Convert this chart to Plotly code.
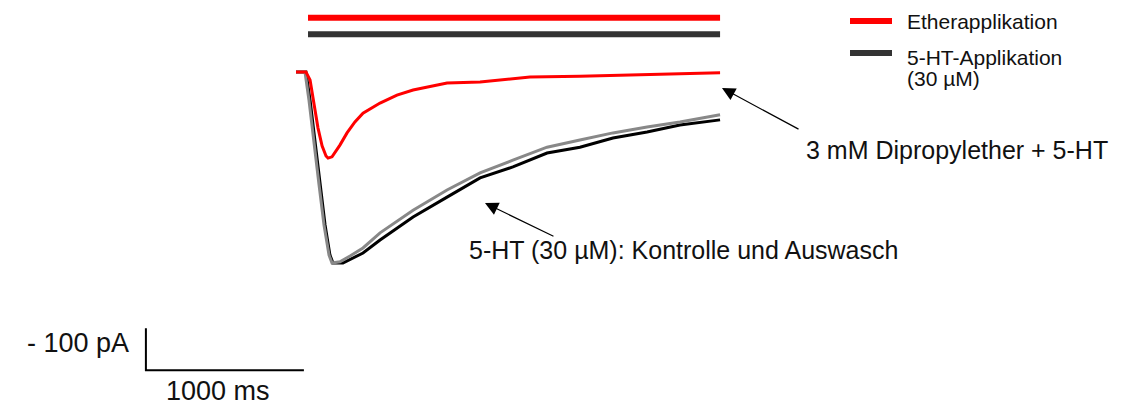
import plotly.graph_objects as go

# ---- data (time in ms, current in pA) ----
red_t = [0, 63, 89, 114, 139, 165, 190, 203, 228, 278, 323, 373, 424, 532, 639, 741, 956, 1165, 1481, 1797, 2222, 2684]
red_i = [0, 0, -19, -79, -133, -176, -200, -205, -202, -174, -145, -119, -98, -74, -55, -43, -26, -24, -12, -10, -7, -2]

black_t = [0, 63, 89, 120, 152, 184, 215, 234, 297, 354, 424, 532, 741, 956, 1165, 1373, 1589, 1797, 2006, 2222, 2430, 2684]
black_i = [0, 0, -67, -162, -269, -364, -436, -455, -455, -445, -431, -400, -345, -298, -252, -226, -193, -179, -157, -143, -126, -114]

gray_t = [0, 57, 82, 114, 146, 177, 209, 228, 278, 342, 424, 532, 741, 956, 1165, 1373, 1589, 1797, 2006, 2222, 2430, 2684]
gray_i = [0, 0, -67, -162, -269, -364, -436, -455, -452, -438, -419, -383, -329, -281, -240, -210, -179, -162, -145, -131, -119, -102]

ether_bar_t = [76, 2684]
ether_bar_i = [129, 129]
ht_bar_t = [76, 2684]
ht_bar_i = [90, 90]

scale_t = [-950, -950, 50]
scale_i = [-610, -710, -710]

legend_labels = ["Etherapplikation", "5-HT-Applikation", "(30 µM)"]
label_ether = "3 mM Dipropylether + 5-HT"
label_ctrl = "5-HT (30 µM): Kontrolle und Auswasch"
scale_y_label = "- 100 pA"
scale_x_label = "1000 ms"

W, H = 1131, 412
FONT = "Liberation Sans, Arial, sans-serif"

fig = go.Figure()
fig.add_trace(go.Scatter(x=ether_bar_t, y=ether_bar_i, mode="lines",
                         line=dict(color="#ff0000", width=6), hoverinfo="skip"))
fig.add_trace(go.Scatter(x=ht_bar_t, y=ht_bar_i, mode="lines",
                         line=dict(color="#333333", width=6), hoverinfo="skip"))
fig.add_trace(go.Scatter(x=black_t, y=black_i, mode="lines",
                         line=dict(color="#000000", width=3), hoverinfo="skip"))
fig.add_trace(go.Scatter(x=gray_t, y=gray_i, mode="lines",
                         line=dict(color="#888888", width=3), hoverinfo="skip"))
fig.add_trace(go.Scatter(x=red_t, y=red_i, mode="lines",
                         line=dict(color="#ff0000", width=3), hoverinfo="skip"))
fig.add_trace(go.Scatter(x=scale_t, y=scale_i, mode="lines",
                         line=dict(color="#000000", width=2), hoverinfo="skip"))

annotations = [
    # arrows
    dict(x=2696, y=-38, ax=3190, ay=-138, xref="x", yref="y", axref="x", ayref="y",
         text="", showarrow=True, arrowhead=2, arrowsize=2.2, arrowwidth=1.2, arrowcolor="#000"),
    dict(x=1196, y=-312, ax=1639, ay=-393, xref="x", yref="y", axref="x", ayref="y",
         text="", showarrow=True, arrowhead=2, arrowsize=2.2, arrowwidth=1.2, arrowcolor="#000"),
    # labels
    dict(x=3215, y=-186, xref="x", yref="y", text=label_ether, showarrow=False,
         xanchor="left", yanchor="middle", font=dict(size=25, color="#111", family=FONT)),
    dict(x=1082, y=-424, xref="x", yref="y", text=label_ctrl, showarrow=False,
         xanchor="left", yanchor="middle", font=dict(size=25, color="#111", family=FONT)),
    dict(x=-1045, y=-645, xref="x", yref="y", text=scale_y_label, showarrow=False,
         xanchor="right", yanchor="middle", font=dict(size=27, color="#111", family=FONT)),
    dict(x=-494, y=-760, xref="x", yref="y", text=scale_x_label, showarrow=False,
         xanchor="center", yanchor="middle", font=dict(size=27, color="#111", family=FONT)),
    # legend text
    dict(x=905 / W, y=1 - 22 / H, xref="paper", yref="paper", text=legend_labels[0], showarrow=False,
         xanchor="left", yanchor="middle", font=dict(size=21, color="#111", family=FONT)),
    dict(x=905 / W, y=1 - 57 / H, xref="paper", yref="paper", text=legend_labels[1], showarrow=False,
         xanchor="left", yanchor="middle", font=dict(size=21, color="#111", family=FONT)),
    dict(x=905 / W, y=1 - 78 / H, xref="paper", yref="paper", text=legend_labels[2], showarrow=False,
         xanchor="left", yanchor="middle", font=dict(size=21, color="#111", family=FONT)),
]

shapes = [
    dict(type="line", xref="paper", yref="paper", x0=850 / W, x1=892 / W,
         y0=1 - 21 / H, y1=1 - 21 / H, line=dict(color="#ff0000", width=6)),
    dict(type="line", xref="paper", yref="paper", x0=850 / W, x1=892 / W,
         y0=1 - 53 / H, y1=1 - 53 / H, line=dict(color="#333333", width=6)),
]

px_per_ms = 0.158
px_per_pa = 0.42
x0_px, base_px = 296, 72

fig.update_layout(
    width=W, height=H,
    margin=dict(l=0, r=0, t=0, b=0),
    paper_bgcolor="white", plot_bgcolor="white",
    showlegend=False,
    xaxis=dict(range=[-x0_px / px_per_ms, (W - x0_px) / px_per_ms], visible=False),
    yaxis=dict(range=[(base_px - H) / px_per_pa, base_px / px_per_pa], visible=False),
    annotations=annotations, shapes=shapes,
)

fig.write_html("out.html")
